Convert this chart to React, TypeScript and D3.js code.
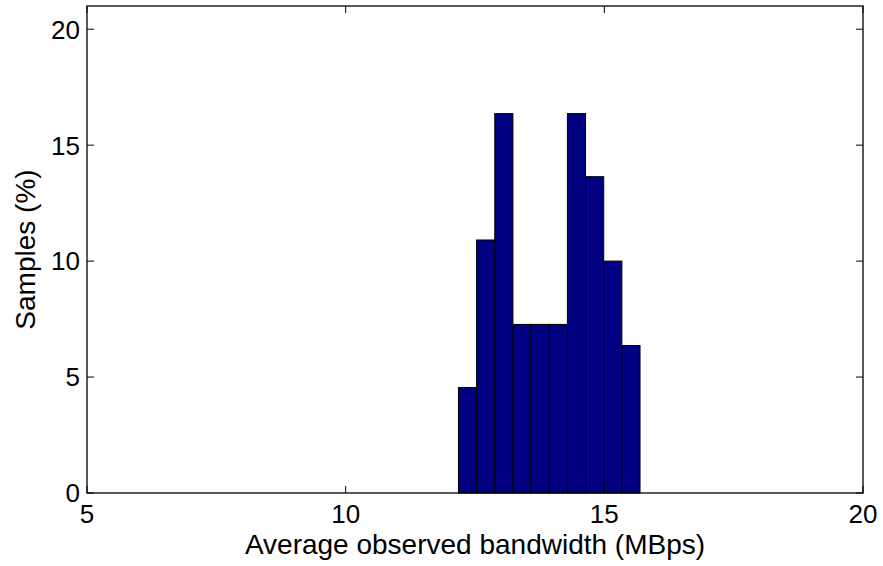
import React, { useEffect, useRef } from 'react';
import * as d3 from 'd3';

// histogram bins (MBps) and share of samples (%)
const binStart = 12.18;
const binWidth = 0.351;
const binPercents = [4.55, 10.91, 16.36, 7.27, 7.27, 7.27, 16.36, 13.64, 10.0, 6.36];
const xTicks = [5, 10, 15, 20];
const yTicks = [0, 5, 10, 15, 20];

export default function App() {
  const svgRef = useRef<SVGSVGElement | null>(null);

  useEffect(() => {
    if (!svgRef.current) return;
    const W = 883, H = 566;
    const margin = { top: 6, right: 20, bottom: 73, left: 87 };
    const width = W - margin.left - margin.right;
    const height = H - margin.top - margin.bottom;

    const root = d3.select(svgRef.current);
    root.selectAll('*').remove();
    root.attr('width', W).attr('height', H);

    const svg = root.append('g').attr('transform', `translate(${margin.left},${margin.top})`);

    const x = d3.scaleLinear().domain([5, 20]).range([0, width]);
    const y = d3.scaleLinear().domain([0, 21]).range([height, 0]);

    const bins = binPercents.map((v, i) => ({
      x0: binStart + i * binWidth,
      x1: binStart + (i + 1) * binWidth,
      v
    }));

    // bars
    svg.selectAll('rect.bar')
      .data(bins)
      .enter()
      .append('rect')
      .attr('class', 'bar')
      .attr('x', d => x(d.x0))
      .attr('y', d => y(d.v))
      .attr('width', d => x(d.x1) - x(d.x0))
      .attr('height', d => y(0) - y(d.v))
      .style('fill', '#000080')
      .style('stroke', '#000')
      .style('stroke-width', 1);

    const font = 'Liberation Sans, Arial, Helvetica, sans-serif';
    const fs = '26px';
    const tickLen = 7;

    // y ticks, inside on both sides
    yTicks.forEach(t => {
      svg.append('line').attr('x1', 0).attr('x2', tickLen).attr('y1', y(t)).attr('y2', y(t))
        .style('stroke', '#000');
      svg.append('line').attr('x1', width).attr('x2', width - tickLen).attr('y1', y(t)).attr('y2', y(t))
        .style('stroke', '#000');
      svg.append('text').attr('x', -7).attr('y', y(t)).attr('dy', '0.36em')
        .attr('text-anchor', 'end').style('font-family', font).style('font-size', fs)
        .text(t);
    });

    // x ticks, inside on both sides
    xTicks.forEach(t => {
      svg.append('line').attr('x1', x(t)).attr('x2', x(t)).attr('y1', height).attr('y2', height - tickLen)
        .style('stroke', '#000');
      svg.append('line').attr('x1', x(t)).attr('x2', x(t)).attr('y1', 0).attr('y2', tickLen)
        .style('stroke', '#000');
      svg.append('text').attr('x', x(t)).attr('y', height + 30)
        .attr('text-anchor', 'middle').style('font-family', font).style('font-size', fs)
        .text(t);
    });

    // box
    svg.append('rect').attr('x', 0).attr('y', 0).attr('width', width).attr('height', height)
      .style('fill', 'none').style('stroke', '#000').style('stroke-width', 1.3);

    svg.append('text').attr('x', width / 2).attr('y', height + 61)
      .attr('text-anchor', 'middle').style('font-family', font).style('font-size', '28px')
      .text('Average observed bandwidth (MBps)');

    svg.append('text')
      .attr('transform', `translate(${-52},${height / 2}) rotate(-90)`)
      .attr('text-anchor', 'middle').style('font-family', font).style('font-size', '28px')
      .text('Samples (%)');
  }, []);

  return <svg ref={svgRef} style={{ position: 'absolute', left: 0, top: 0, background: '#fff' }}></svg>;
}
